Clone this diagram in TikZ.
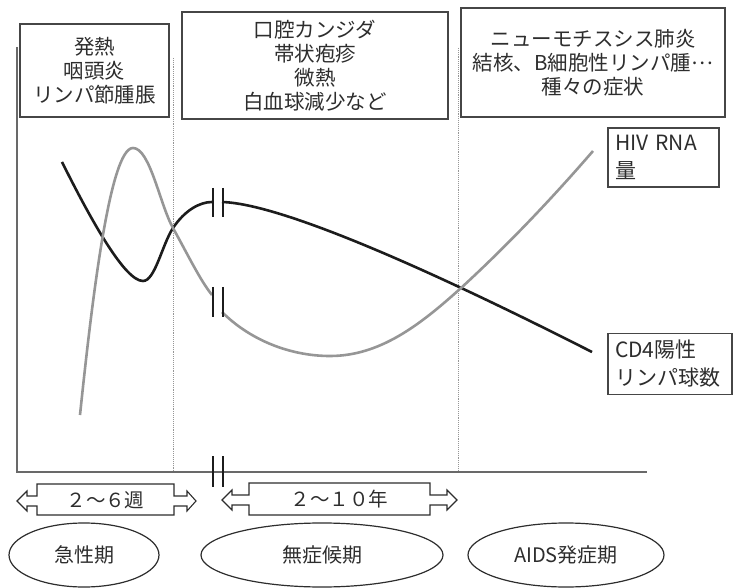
\documentclass[tikz,border=0pt]{standalone}
\usepackage{fontspec}
\setmainfont{Noto Sans CJK JP}
\usetikzlibrary{shapes.geometric}
\definecolor{ink}{RGB}{45,45,45}
\definecolor{boxline}{RGB}{70,70,70}
\definecolor{curvegray}{RGB}{150,150,150}
\definecolor{curveblack}{RGB}{28,28,28}
\definecolor{axisgray}{RGB}{105,105,105}
\definecolor{dotgray}{RGB}{150,150,150}
\begin{document}
\begin{tikzpicture}[x=1pt,y=-1pt,
  txtbox/.style={draw=boxline, line width=1.3pt, inner sep=0pt, align=center,
    font=\fontsize{20.5}{24}\selectfont, text=ink},
  lblbox/.style={draw=boxline, line width=1.3pt, inner xsep=7pt, inner ysep=0pt,
    align=left, font=\fontsize{21}{28}\selectfont, text=ink},
  phase/.style={draw=ink, line width=1.2pt, ellipse, inner sep=0pt,
    minimum height=64pt, font=\fontsize{20}{24}\selectfont, text=ink},
  spanlbl/.style={inner sep=0pt, font=\fontsize{19.5}{24}\selectfont, text=ink},
  spanarrow/.style={draw=ink, line width=1.1pt, line join=miter},
  axisline/.style={draw=axisgray, line width=1.4pt},
  divider/.style={draw=dotgray, line width=0.9pt, densely dotted},
  cdcurve/.style={draw=curveblack, line width=2.6pt},
  rnacurve/.style={draw=curvegray, line width=2.6pt},
  breakmark/.style={draw=curveblack, line width=2.4pt},
]
\useasboundingbox (0,0) rectangle (734,588);

% symptom boxes
\node[txtbox, minimum width=149pt, minimum height=93pt] (b1) at (94.5,70.5)
  {発熱\\咽頭炎\\リンパ節腫脹};
\node[txtbox, minimum width=266pt, minimum height=107pt] (b2) at (315,65.5)
  {口腔カンジダ\\帯状疱疹\\微熱\\白血球減少など};
\node[txtbox, minimum width=264pt, minimum height=109pt] (b3) at (593,62.5)
  {ニューモチスシス肺炎\\結核、B細胞性リンパ腫\raisebox{0.3em}{…}\\種々の症状};

% curve labels
\node[lblbox, text width=97pt, minimum height=59pt] (hiv) at (663.5,157.5)
  {HIV RNA\\量};
\node[lblbox, text width=110pt, minimum height=61pt] (cd4) at (670,364)
  {CD4陽性\\リンパ球数};

% axes
\coordinate (ytop) at (17,47);
\coordinate (origin) at (17,472);
\coordinate (xend) at (647,472);
\draw[axisline] (ytop) -- (origin) -- (xend);

% phase dividers
\coordinate (d1top) at (173,58);
\coordinate (d1bot) at (173,471);
\coordinate (d2top) at (458,48);
\coordinate (d2bot) at (458,471);
\draw[divider] (d1top) -- (d1bot);
\draw[divider] (d2top) -- (d2bot);

% CD4 curve (black)
\draw[cdcurve] (62,162) .. controls (92,222) and (125,281) .. (143,281)
  .. controls (155,281) and (162,245) .. (173,228)
  .. controls (185,210) and (200,202) .. (212,202);
\draw[cdcurve] (222,202) .. controls (290,204) and (470,290) .. (592,352);

% HIV RNA curve (gray)
\draw[rnacurve] (80,415) .. controls (92,300) and (110,148) .. (133,148)
  .. controls (150,148) and (160,205) .. (173,228)
  .. controls (188,255) and (200,280) .. (212,295);
\draw[rnacurve] (222,312) .. controls (250,340) and (290,356) .. (330,356)
  .. controls (380,356) and (420,325) .. (461,288)
  .. controls (510,243) and (555,195) .. (593,151);

% break marks
\draw[breakmark] (213,188) -- (213,217) (223,188) -- (223,217);
\draw[breakmark] (213,287) -- (213,317) (223,287) -- (223,317);
\draw[breakmark] (213,456) -- (213,487) (223,456) -- (223,487);

% duration arrows
\draw[spanarrow] (37,484) -- (174,484) -- (174,496) -- (187,496) -- (187,491)
  -- (196,501) -- (187,511) -- (187,506) -- (174,506) -- (174,515) -- (37,515)
  -- (37,506) -- (27,506) -- (27,511) -- (17,501) -- (27,491) -- (27,496)
  -- (37,496) -- cycle;
\node[spanlbl] (w) at (105.5,500) {２〜６週};
\draw[spanarrow] (249,483) -- (430,483) -- (430,495) -- (447,495) -- (447,490)
  -- (457,500) -- (447,510) -- (447,505) -- (430,505) -- (430,515) -- (249,515)
  -- (249,505) -- (232,505) -- (232,510) -- (222,500) -- (232,490) -- (232,495)
  -- (249,495) -- cycle;
\node[spanlbl] (y) at (339.5,499) {２〜１０年};

% phases
\node[phase, minimum width=150pt] (p1) at (84,555) {急性期};
\node[phase, minimum width=242pt] (p2) at (322,555) {無症候期};
\node[phase, minimum width=196pt] (p3) at (566,555) {AIDS発症期};
\end{tikzpicture}
\end{document}
